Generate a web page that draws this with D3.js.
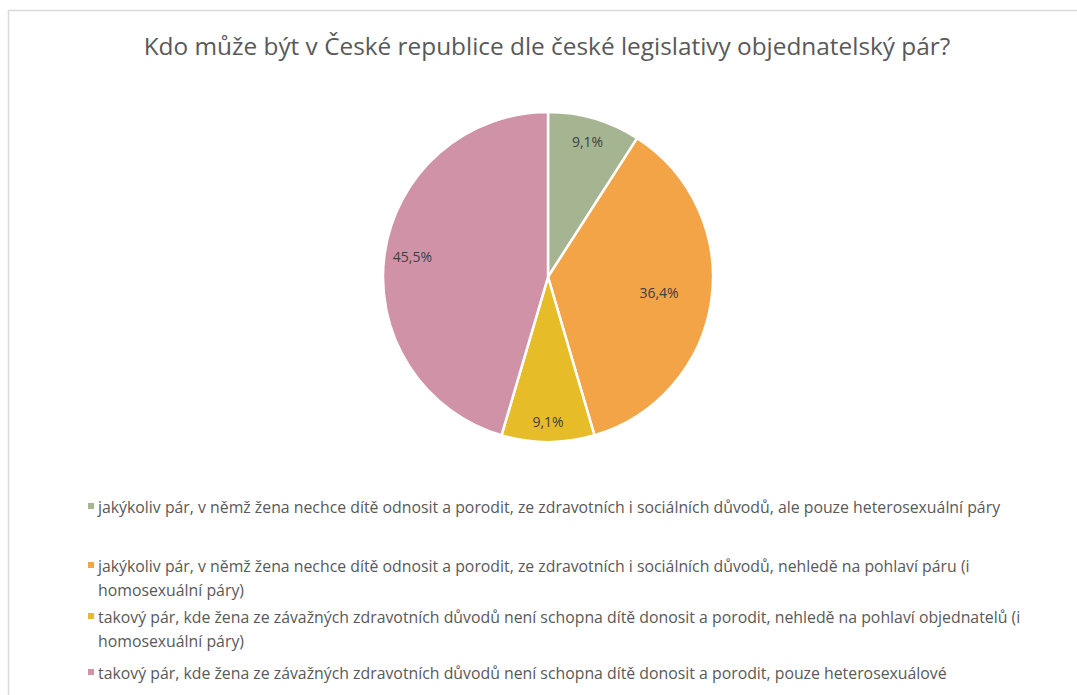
<!DOCTYPE html>
<html>
<head>
<meta charset="utf-8">
<style>
  body { margin: 0; background: #fff; }
  svg { display: block; font-family: "Open Sans", sans-serif; }
</style>
</head>
<body>
<svg id="chart" width="1077" height="695"></svg>
<script src="https://cdn.jsdelivr.net/npm/d3@7/dist/d3.min.js"></script>
<script>
// data
const title = "Kdo může být v České republice dle české legislativy objednatelský pár?";
const categories = [
  ["jakýkoliv pár, v němž žena nechce dítě odnosit a porodit, ze zdravotních i sociálních důvodů, ale pouze heterosexuální páry"],
  ["jakýkoliv pár, v němž žena nechce dítě odnosit a porodit, ze zdravotních i sociálních důvodů, nehledě na pohlaví páru (i", "homosexuální páry)"],
  ["takový pár, kde žena ze závažných zdravotních důvodů není schopna dítě donosit a porodit, nehledě na pohlaví objednatelů (i", "homosexuální páry)"],
  ["takový pár, kde žena ze závažných zdravotních důvodů není schopna dítě donosit a porodit, pouze heterosexuálové"]
];
const values = [9.1, 36.4, 9.1, 45.5];
const colors = ["#a5b592", "#f3a447", "#e7bc29", "#d092a7"];

// layout
const cx = 548, cy = 277, R = 165;
const labelR = [0.85, 0.68, 0.88, 0.83];   // where Excel put each data label
const legendY = [507, 566, 617, 673];
const lineH = 24;

const svg = d3.select("#chart");

// frame
svg.append("path")
  .attr("d", "M8.5,695 V10.5 H1077")
  .attr("fill", "none")
  .attr("stroke", "#d9d9d9")
  .attr("stroke-width", 1.5);

// fit a text to a target width by adjusting font size
function fit(sel, target) {
  const w = sel.node().getComputedTextLength();
  const fs = parseFloat(sel.attr("font-size"));
  sel.attr("font-size", (fs * target / w).toFixed(2));
  return fs * target / w;
}

const t = svg.append("text")
  .attr("x", 547).attr("y", 55)
  .attr("text-anchor", "middle")
  .attr("font-size", 22)
  .attr("fill", "#595959")
  .text(title);
fit(t, 807);

const pie = d3.pie().sort(null).value(d => d);
const arcs = pie(values);
const arc = d3.arc().innerRadius(0).outerRadius(R);

const g = svg.append("g").attr("transform", `translate(${cx},${cy})`);
g.selectAll("path.slice")
  .data(arcs)
  .join("path")
  .attr("class", "slice")
  .attr("d", arc)
  .attr("fill", (d, i) => colors[i])
  .attr("stroke", "#fff")
  .attr("stroke-width", 2.5);

g.selectAll("text.lbl")
  .data(arcs)
  .join("text")
  .attr("class", "lbl")
  .attr("transform", (d, i) => {
    const a = (d.startAngle + d.endAngle) / 2;
    const r = R * labelR[i];
    return `translate(${Math.sin(a) * r},${-Math.cos(a) * r})`;
  })
  .attr("text-anchor", "middle")
  .attr("dy", "0.35em")
  .attr("font-size", 14)
  .attr("fill", "#404040")
  .text(d => d3.format(".1f")(d.data).replace(".", ",") + "%");

// legend
const leg = svg.append("g");
let fs = 15;
categories.forEach((lines, i) => {
  leg.append("rect")
    .attr("x", 88).attr("y", legendY[i] - 4)
    .attr("width", 6).attr("height", 6)
    .attr("fill", colors[i]);
  lines.forEach((ln, j) => {
    const tx = leg.append("text")
      .attr("x", 98).attr("y", legendY[i] + j * lineH)
      .attr("dy", "0.35em")
      .attr("font-size", fs)
      .attr("fill", "#595959")
      .text(ln);
    if (i === 0) fs = fit(tx, 903);
  });
});
</script>
</body>
</html>
